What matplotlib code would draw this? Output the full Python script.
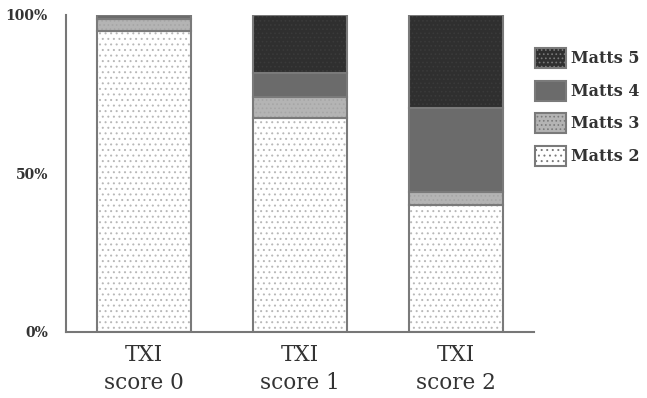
import matplotlib
matplotlib.use("Agg")
import matplotlib.pyplot as plt
import numpy as np

plt.rcParams['font.family'] = ['DejaVu Serif']
plt.rcParams['hatch.linewidth'] = 0.7

categories = ["TXI\nscore 0", "TXI\nscore 1", "TXI\nscore 2"]
matts2 = [95.0, 67.5, 40.0]
matts3 = [3.5, 6.6, 4.2]
matts4 = [1.5, 7.6, 26.5]
matts5 = [0.0, 18.3, 29.3]

series = [("Matts 2", matts2, "white", "#b8b8b8", "..."),
          ("Matts 3", matts3, "#b4b4b4", "#a6a6a6", "...."),
          ("Matts 4", matts4, "#6b6b6b", "#666666", None),
          ("Matts 5", matts5, "#2f2f2f", "#3a3a3a", "....")]

fig = plt.figure(figsize=(6.47, 3.98), dpi=100)
ax = fig.add_axes([0.102, 0.166, 0.723, 0.797])

x = np.arange(len(categories))
bottom = np.zeros(len(categories))
handles = []
for name, vals, fc, hc, hatch in series:
    vals = np.array(vals)
    # hatch drawn in its own colour, outline drawn separately
    ax.bar(x, vals, 0.6, bottom=bottom, color=fc, edgecolor=hc,
           hatch=hatch, linewidth=0)
    ax.bar(x, vals, 0.6, bottom=bottom, color="none",
           edgecolor="#7a7a7a", linewidth=1.5)
    handles.append(plt.Rectangle((0, 0), 1, 1, facecolor=fc, hatch=hatch,
                                 edgecolor="#7a7a7a", linewidth=1.5))
    bottom += vals

ax.set_xlim(-0.5, 2.5)
ax.set_ylim(0, 100)
ax.set_yticks([0, 50, 100])
ax.set_yticklabels(["0%", "50%", "100%"], fontsize=10, fontweight="bold",
                   color="#333333")
ax.set_xticks(x)
ax.set_xticklabels(categories, fontsize=15.5, color="#333333", linespacing=1.35)
ax.tick_params(length=0)
ax.tick_params(axis="x", pad=9)
ax.tick_params(axis="y", pad=13)
for s in ["top", "right"]:
    ax.spines[s].set_visible(False)
for s in ["left", "bottom"]:
    ax.spines[s].set_color("#777777")
    ax.spines[s].set_linewidth(1.5)

names = [s[0] for s in series]
leg = fig.legend(handles[::-1], names[::-1], loc="upper left",
                 bbox_to_anchor=(0.805, 0.915), frameon=False,
                 prop={"size": 11.5, "weight": "bold"},
                 handlelength=1.9, handleheight=1.55, labelspacing=0.78,
                 handletextpad=0.35)
for t in leg.get_texts():
    t.set_color("#333333")

fig.savefig("out.png", dpi=100)
